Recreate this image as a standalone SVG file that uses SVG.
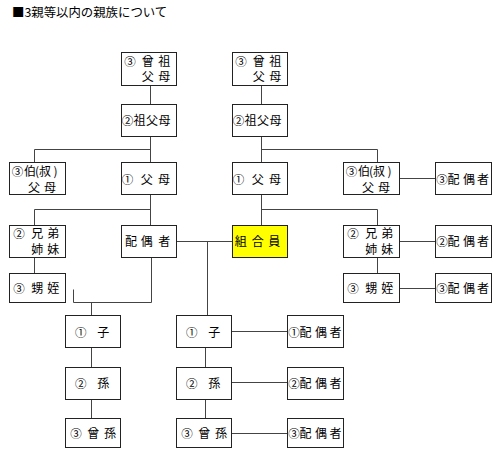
<svg xmlns="http://www.w3.org/2000/svg" width="500" height="456" viewBox="0 0 500 456">
<style>
.b{fill:#fff;stroke:#222;stroke-width:1}
.y{fill:#ffff00;stroke:#222;stroke-width:1}
.t{font-family:"Noto Sans CJK JP","Noto Sans CJK SC",sans-serif;font-size:12px;fill:#000;text-anchor:middle}
.n{font-size:11.5px}
.ti{font-family:"Noto Sans CJK JP","Noto Sans CJK SC",sans-serif;font-size:12.4px;fill:#000}
.c{fill:none;stroke:#444;stroke-width:1}
</style>
<rect width="500" height="456" fill="#fff"/>
<text class="ti" x="12" y="17">■3親等以内の親族について</text>
<g id="connectors">
<path class="c" d="M150.5 85.5V104.5M150.5 136.5V162.5M34.5 162.5V149.5H150.5M150.5 194.5V225.5M34.5 225.5V209.5H150.5M34.5 257.5V273.5"/>
<path class="c" d="M176.5 241.5H232.5M207.5 241.5V315.5"/>
<path class="c" d="M151.5 257.5V302.5H73.5V289.5M91.5 302.5V315.5M91.5 347.5V367.5M91.5 399.5V418.5"/>
<path class="c" d="M205.5 347.5V367.5M205.5 399.5V418.5M231.5 331.5H287.5M231.5 382.5H287.5M231.5 433.5H287.5"/>
<path class="c" d="M261.5 85.5V104.5M261.5 136.5V162.5M377.5 162.5V149.5H261.5M261.5 194.5V225.5M377.5 225.5V209.5H261.5M377.5 257.5V273.5"/>
<path class="c" d="M399.5 178.5H435.5M399.5 241.5H435.5M399.5 288.5H435.5"/>
</g>
<g id="n-sousofubo-l"><rect class="b" x="121.5" y="52.5" width="55" height="33"/><text class="t" y="65.5"><tspan class="n" x="130">③</tspan><tspan x="147.7 164.3">曾祖</tspan></text><text class="t" x="147.7 164.3" y="81">父母</text></g>
<g id="n-sousofubo-r"><rect class="b" x="232.5" y="52.5" width="55" height="33"/><text class="t" y="65.5"><tspan class="n" x="241">③</tspan><tspan x="258.7 275.3">曾祖</tspan></text><text class="t" x="258.7 275.3" y="81">父母</text></g>
<g id="n-sofubo-l"><rect class="b" x="121.5" y="104.5" width="55" height="32"/><text class="t" y="125"><tspan class="n" x="127.5">②</tspan><tspan x="139.5 152 164.5">祖父母</tspan></text></g>
<g id="n-sofubo-r"><rect class="b" x="232.5" y="104.5" width="55" height="32"/><text class="t" y="125"><tspan class="n" x="238.5">②</tspan><tspan x="250.5 263 275.5">祖父母</tspan></text></g>
<g id="n-oji-l"><rect class="b" x="9.5" y="162.5" width="56" height="32"/><text class="t" y="175.5"><tspan class="n" x="17.5">③</tspan><tspan x="30 37 45 55.5">伯(叔)</tspan></text><text class="t" x="34 50" y="191.5">父母</text></g>
<g id="n-fubo-l"><rect class="b" x="121.5" y="162.5" width="55" height="32"/><text class="t" y="183.5"><tspan class="n" x="127.5">①</tspan><tspan x="146.7 164">父母</tspan></text></g>
<g id="n-fubo-r"><rect class="b" x="232.5" y="162.5" width="55" height="32"/><text class="t" y="183.5"><tspan class="n" x="238.5">①</tspan><tspan x="257.7 275">父母</tspan></text></g>
<g id="n-oji-r"><rect class="b" x="343.5" y="162.5" width="56" height="32"/><text class="t" y="175.5"><tspan class="n" x="351.5">③</tspan><tspan x="364 371 379 389.5">伯(叔)</tspan></text><text class="t" x="368 384" y="191.5">父母</text></g>
<g id="n-oji-sp"><rect class="b" x="435.5" y="162.5" width="56" height="32"/><text class="t" y="183.5"><tspan class="n" x="442">③</tspan><tspan x="453.5 469 483">配偶者</tspan></text></g>
<g id="n-kyodai-l"><rect class="b" x="9.5" y="225.5" width="56" height="32"/><text class="t" y="237.8"><tspan class="n" x="19">②</tspan><tspan x="37.3 53.3">兄弟</tspan></text><text class="t" x="37.3 53.3" y="253.8">姉妹</text></g>
<g id="n-haigusha"><rect class="b" x="121.5" y="225.5" width="55" height="32"/><text class="t" x="131 146.7 164.3" y="246">配偶者</text></g>
<g id="n-kumiaiin"><rect class="y" x="232.5" y="225.5" width="55" height="32"/><text class="t" x="240.7 257.7 274.3" y="245.5">組合員</text></g>
<g id="n-kyodai-r"><rect class="b" x="343.5" y="225.5" width="56" height="32"/><text class="t" y="237.8"><tspan class="n" x="353">②</tspan><tspan x="371.3 387.3">兄弟</tspan></text><text class="t" x="371.3 387.3" y="253.8">姉妹</text></g>
<g id="n-kyodai-sp"><rect class="b" x="435.5" y="225.5" width="56" height="32"/><text class="t" y="246"><tspan class="n" x="442">②</tspan><tspan x="453.5 469 483">配偶者</tspan></text></g>
<g id="n-oimei-l"><rect class="b" x="9.5" y="273.5" width="56" height="29"/><text class="t" y="293"><tspan class="n" x="19">③</tspan><tspan x="37.3 53.3">甥姪</tspan></text></g>
<g id="n-oimei-r"><rect class="b" x="343.5" y="273.5" width="56" height="29"/><text class="t" y="293"><tspan class="n" x="353">③</tspan><tspan x="371.3 387.3">甥姪</tspan></text></g>
<g id="n-oimei-sp"><rect class="b" x="435.5" y="273.5" width="56" height="29"/><text class="t" y="293"><tspan class="n" x="442">③</tspan><tspan x="453.5 469 483">配偶者</tspan></text></g>
<g id="n-ko-l"><rect class="b" x="65.5" y="315.5" width="55" height="32"/><text class="t" y="336.5"><tspan class="n" x="80.7">①</tspan><tspan x="103.3">子</tspan></text></g>
<g id="n-ko-m"><rect class="b" x="176.5" y="315.5" width="55" height="32"/><text class="t" y="336.5"><tspan class="n" x="191.7">①</tspan><tspan x="214.3">子</tspan></text></g>
<g id="n-ko-sp"><rect class="b" x="287.5" y="315.5" width="56" height="32"/><text class="t" y="336.5"><tspan class="n" x="294">①</tspan><tspan x="305.5 321 335.5">配偶者</tspan></text></g>
<g id="n-mago-l"><rect class="b" x="65.5" y="367.5" width="55" height="32"/><text class="t" y="387.5"><tspan class="n" x="80.7">②</tspan><tspan x="103.3">孫</tspan></text></g>
<g id="n-mago-m"><rect class="b" x="176.5" y="367.5" width="55" height="32"/><text class="t" y="387.5"><tspan class="n" x="191.7">②</tspan><tspan x="214.3">孫</tspan></text></g>
<g id="n-mago-sp"><rect class="b" x="287.5" y="367.5" width="56" height="32"/><text class="t" y="387.5"><tspan class="n" x="294">②</tspan><tspan x="305.5 321 335.5">配偶者</tspan></text></g>
<g id="n-himago-l"><rect class="b" x="65.5" y="418.5" width="55" height="29"/><text class="t" y="437.5"><tspan class="n" x="76">③</tspan><tspan x="93.3 110">曾孫</tspan></text></g>
<g id="n-himago-m"><rect class="b" x="176.5" y="418.5" width="55" height="29"/><text class="t" y="437.5"><tspan class="n" x="187">③</tspan><tspan x="204.3 221">曾孫</tspan></text></g>
<g id="n-himago-sp"><rect class="b" x="287.5" y="418.5" width="56" height="29"/><text class="t" y="437.5"><tspan class="n" x="294">③</tspan><tspan x="305.5 321 335.5">配偶者</tspan></text></g>
</svg>
